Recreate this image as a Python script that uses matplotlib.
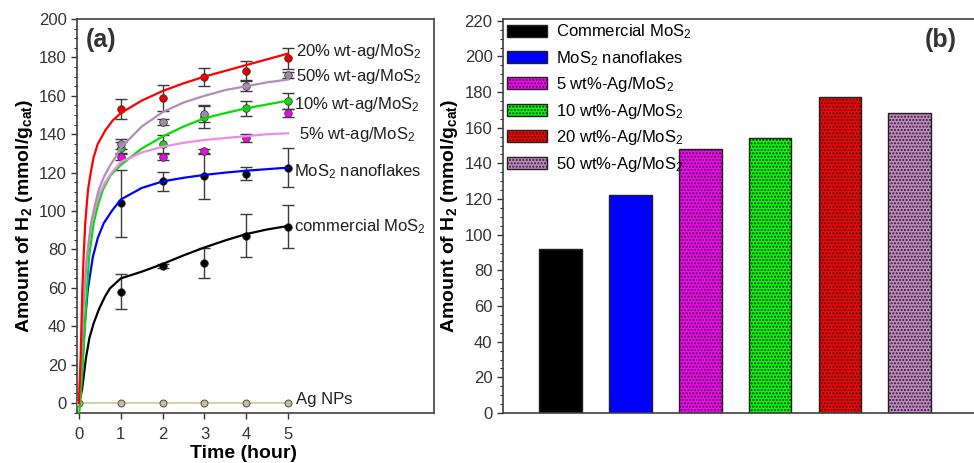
import matplotlib
matplotlib.use("Agg")
import matplotlib.pyplot as plt
from matplotlib.ticker import MultipleLocator, FixedLocator
import numpy as np

plt.rcParams['font.family'] = ['Liberation Sans', 'DejaVu Sans']
plt.rcParams['mathtext.fontset'] = 'custom'
plt.rcParams['mathtext.rm'] = 'Liberation Sans'
plt.rcParams['mathtext.it'] = 'Liberation Sans:italic'
plt.rcParams['mathtext.bf'] = 'Liberation Sans:bold'
plt.rcParams['hatch.linewidth'] = 1.0

# ---- panel (a): measured points ----
t_pts = [1, 2, 3, 4, 5]
y_20 = [153, 159, 169.8, 173, 179.5]
e_20 = [5.3, 6.7, 4.5, 5, 5.5]
y_50 = [135, 146.5, 150.5, 165, 171]
e_50 = [2.5, 1.5, 4, 2.5, 1.5]
y_10 = [133, 135, 149, 153.5, 157.3]
e_10 = [3, 4.7, 6, 4, 4]
y_5 = [128, 128, 131, 138, 151]
e_5 = [1.5, 1.5, 1.5, 2, 2]
y_nano = [104, 115.4, 118, 119.5, 122.6]
e_nano = [17.4, 5, 12, 3.5, 10]
y_comm = [58, 71.4, 73.1, 87.2, 91.8]
e_comm = [9, 1, 7.8, 11, 11.3]
t_ag = [0, 1, 2, 3, 4, 5]
y_ag = [0, 0, 0, 0, 0, 0]

# ---- panel (a): fitted curves ----
tc_20 = [0, 0.04, 0.08, 0.11, 0.15, 0.215, 0.28, 0.35, 0.45, 0.63, 0.8, 1, 1.5, 2, 2.5, 3, 3.5, 4, 4.5, 5]
yc_20 = [0, 24, 59, 76, 94, 111, 120, 128, 135, 142, 147, 151, 157.5, 162.5, 166.5, 170, 173, 176, 179, 182]
tc_50 = [0, 0.05, 0.13, 0.19, 0.29, 0.38, 0.47, 0.6, 0.75, 0.87, 1, 1.5, 2, 2.5, 3, 3.5, 4, 4.5, 5]
yc_50 = [0, 24, 59, 76, 94, 103, 111, 118, 124, 128, 133, 144, 151.5, 156.5, 160, 163, 165, 167, 168.5]
tc_5 = [0, 0.05, 0.13, 0.19, 0.29, 0.38, 0.47, 0.6, 0.75, 1, 1.5, 2, 2.5, 3, 3.5, 4, 4.5, 5]
yc_5 = [0, 24, 59, 76, 93, 101, 108, 114, 119, 125.5, 130.5, 133.5, 135.5, 137, 138, 139, 140, 140.5]
tc_10 = [0, 0.03, 0.1, 0.19, 0.24, 0.35, 0.45, 0.57, 0.75, 1, 1.5, 2, 2.5, 3, 3.5, 4, 4.5, 5]
yc_10 = [-6, 0, 24, 59, 76, 93.6, 103, 111, 118.5, 124, 132.5, 138.8, 144, 148.3, 151, 153.5, 155.5, 157.5]
tc_nano = [0, 0.04, 0.09, 0.14, 0.21, 0.33, 0.45, 0.59, 0.8, 1, 1.5, 2, 2.5, 3, 3.5, 4, 4.5, 5]
yc_nano = [0, 7, 24, 41.5, 59, 76, 86, 93.6, 100.5, 106, 112, 115.4, 117.3, 118.8, 120, 121, 121.8, 122.6]
tc_comm = [0, 0.07, 0.17, 0.25, 0.35, 0.48, 0.62, 0.74, 1, 1.5, 2, 2.5, 3, 3.5, 4, 4.5, 5]
yc_comm = [0, 6.6, 24, 34, 41.5, 49, 55.4, 59.7, 64.9, 68.4, 72.4, 76.9, 81, 84.7, 88, 90.4, 92.2]

# ---- panel (b) ----
bar_labels = ['Commercial MoS$_2$', 'MoS$_2$ nanoflakes', '5 wt%-Ag/MoS$_2$',
              '10 wt%-Ag/MoS$_2$', '20 wt%-Ag/MoS$_2$', '50 wt%-Ag/MoS$_2$']
bar_values = [92, 122.5, 148, 154, 177.5, 168.5]
bar_colors = ['#000000', '#0000ff', '#ff00ff', '#00ff00', '#ff0000', '#c58ac5']
bar_hatches = [None, None, '.....', '.....', '.....', '.....']

W, H = 974, 463
fig = plt.figure(figsize=(W / 100, H / 100), dpi=100)
spine_c = '#404040'
tick_c = '#333333'

# ================= (a) =================
ax = fig.add_axes([77 / W, 1 - 413 / H, (434 - 77) / W, (413 - 19) / H])
ax.set_xlim(-0.048, 8.49)
ax.set_ylim(-5.2, 200)

# drawing order: later series sit on top where markers overlap
series = [
    (tc_comm, yc_comm, y_comm, e_comm, '#000000', '#000000'),
    (tc_nano, yc_nano, y_nano, e_nano, '#0000ff', '#000000'),
    (tc_10, yc_10, y_10, e_10, '#00e000', '#20d020'),
    (tc_5, yc_5, y_5, e_5, '#f08ae8', '#e010e0'),
    (tc_50, yc_50, y_50, e_50, '#b48cb8', '#a088a8'),
    (tc_20, yc_20, y_20, e_20, '#ff0000', '#e00000'),
]
ax.plot(t_ag, y_ag, color='#c8cc90', lw=1.2, zorder=2)
ax.plot(t_ag, y_ag, 'o', ms=5, mfc='#c0c0a0', mec='#505040', mew=0.7, zorder=4)
for tc, yc, yp, ep, lc, mc in series:
    ax.errorbar(t_pts, yp, yerr=ep, fmt='none', ecolor='#3a3a3a', elinewidth=1.0,
                capsize=4, capthick=1.0, zorder=3)
    ax.plot(t_pts, yp, 'o', ms=5.5, mfc=mc, mec='#303030', mew=0.5, zorder=4)
    ax.plot(tc, yc, color=lc, lw=1.6, zorder=5, clip_on=True, solid_joinstyle='round')

lab_fs = 12
ax.text(5.2, 183, '20% wt-ag/MoS$_2$', fontsize=lab_fs, va='center', color='#202020')
ax.text(5.2, 170.3, '50% wt-ag/MoS$_2$', fontsize=lab_fs, va='center', color='#202020')
ax.text(5.15, 155.6, '10% wt-ag/MoS$_2$', fontsize=lab_fs, va='center', color='#202020')
ax.text(5.25, 139.6, '5% wt-ag/MoS$_2$', fontsize=lab_fs, va='center', color='#202020')
ax.text(5.15, 120.6, 'MoS$_2$ nanoflakes', fontsize=lab_fs, va='center', color='#202020')
ax.text(5.13, 92, 'commercial MoS$_2$', fontsize=lab_fs, va='center', color='#202020')
ax.text(5.2, 2, 'Ag NPs', fontsize=lab_fs, va='center', color='#202020')
ax.text(0.17, 189, '(a)', fontsize=18, fontweight='bold', va='center', color='#333333')

ax.xaxis.set_major_locator(FixedLocator([0, 1, 2, 3, 4, 5]))
ax.yaxis.set_major_locator(MultipleLocator(20))
ax.yaxis.set_minor_locator(MultipleLocator(5))
ax.tick_params(axis='both', which='major', direction='out', length=4, width=1,
               labelsize=12, colors=tick_c)
ax.tick_params(axis='x', which='major', pad=6)
ax.tick_params(axis='y', which='minor', direction='out', length=2.5, width=0.8, colors=tick_c)
ax.set_ylabel(r'Amount of H$_\mathbf{2}$ (mmol/g$_\mathbf{cat}$)', fontsize=14,
              fontweight='bold', labelpad=3)
ax.set_xlabel('Time (hour)', fontsize=14, fontweight='bold')
ax.xaxis.set_label_coords(0.465, -0.08)
for s in ax.spines.values():
    s.set_color(spine_c)
    s.set_linewidth(1.2)

# ================= (b) =================
bx = fig.add_axes([503 / W, 1 - 413 / H, (W - 503) / W + 0.02, (413 - 19) / H])
xs = np.arange(len(bar_values))
bars = bx.bar(xs, bar_values, width=0.61, color=bar_colors, edgecolor='#202020',
              linewidth=1.0)
for b, h, lab in zip(bars, bar_hatches, bar_labels):
    if h:
        b.set_hatch(h)
    b.set_label(lab)
bx.set_xlim(-0.826, 6.2)
bx.set_ylim(0, 221)
bx.yaxis.set_major_locator(MultipleLocator(20))
bx.yaxis.set_minor_locator(MultipleLocator(5))
bx.set_xticks([])
bx.tick_params(axis='y', which='major', direction='out', length=4, width=1,
               labelsize=12, colors=tick_c)
bx.tick_params(axis='y', which='minor', direction='out', length=2.5, width=0.8, colors=tick_c)
bx.set_ylabel(r'Amount of H$_\mathbf{2}$ (mmol/g$_\mathbf{cat}$)', fontsize=14,
              fontweight='bold', labelpad=3)
bx.spines['right'].set_visible(False)
for s in ['left', 'top', 'bottom']:
    bx.spines[s].set_color(spine_c)
    bx.spines[s].set_linewidth(1.2)
bx.legend(loc='upper left', bbox_to_anchor=(-0.013, 1.018), frameon=False, fontsize=12,
          handlelength=2.4, handleheight=0.75, labelspacing=0.45, handletextpad=0.5,
          borderaxespad=0.25)
fig.text(925 / W, 1 - 40 / H, '(b)', fontsize=18, fontweight='bold', va='center',
         color='#333333')

fig.savefig('out.png', dpi=100)
